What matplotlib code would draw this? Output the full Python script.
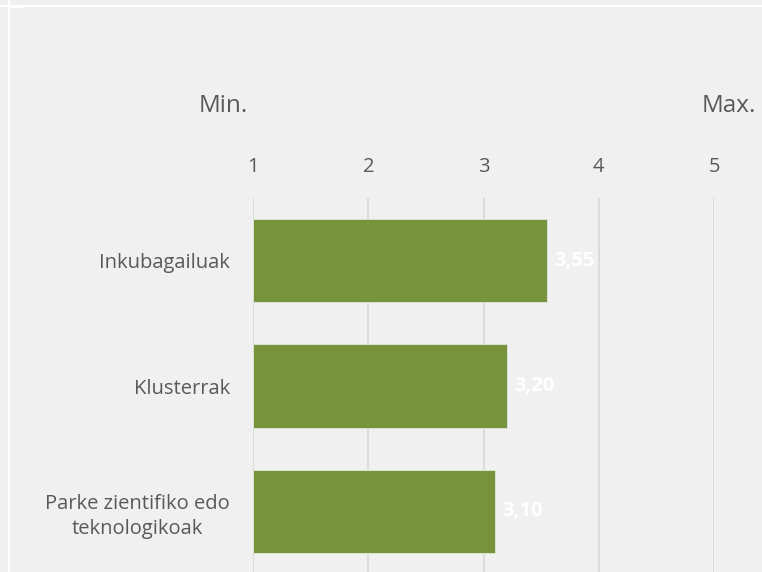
import matplotlib.pyplot as plt
from matplotlib.lines import Line2D

categories = ['Inkubagailuak', 'Klusterrak', 'Parke zientifiko edo\nteknologikoak']
values = [3.55, 3.20, 3.10]
ticks = [1, 2, 3, 4, 5]

bg = '#f0f0f0'
green = '#77933c'
grey_text = '#595959'

plt.rcParams['font.family'] = ['Open Sans', 'DejaVu Sans']

fig = plt.figure(figsize=(7.62, 5.72), dpi=100, facecolor=bg)
ax = fig.add_axes([253 / 762, -2 / 572, (714 - 253) / 762, (575 - 199) / 572])
ax.set_facecolor(bg)

ypos = list(range(len(categories)))
ax.barh(ypos, [v - 1 for v in values], left=1, height=0.665, color=green,
        edgecolor='#e4e8dc', linewidth=0.6, zorder=3)
for y, v in zip(ypos, values):
    ax.text(v + 0.065, y, f'{v:.2f}'.replace('.', ','), color='white',
            fontsize=14.5, fontweight='bold', va='center', ha='left', zorder=4)

ax.set_xlim(1, 5)
ax.set_ylim(len(categories) - 0.5, -0.5)
ax.set_xticks(ticks)
ax.xaxis.tick_top()
ax.tick_params(axis='x', length=0, pad=15, labelsize=14.5, labelcolor=grey_text)
ax.set_yticks(ypos)
ax.set_yticklabels(categories, multialignment='center', linespacing=1.35)
ax.tick_params(axis='y', length=0, pad=16.5, labelsize=14.5, labelcolor=grey_text)
ax.grid(axis='x', color='#d9d9d9', linewidth=1.3, zorder=0)
for s in ax.spines.values():
    s.set_visible(False)

fig.text(223 / 762, 1 - 106 / 572, 'Min.', ha='center', va='center', fontsize=17.5, color=grey_text)
fig.text(729 / 762, 1 - 106 / 572, 'Max.', ha='center', va='center', fontsize=17.5, color=grey_text)

# white frame lines from the screenshot edge
fig.add_artist(Line2D([0, 1], [1 - 5.5 / 572] * 2, color='white', linewidth=1.6, transform=fig.transFigure))
fig.add_artist(Line2D([9 / 762] * 2, [0, 1], color='white', linewidth=1.6, transform=fig.transFigure))
fig.add_artist(Line2D([9 / 762, 23 / 762], [1 - 7 / 572] * 2, color='white', linewidth=1.0, transform=fig.transFigure))

fig.savefig('out.png', dpi=100, facecolor=bg)
